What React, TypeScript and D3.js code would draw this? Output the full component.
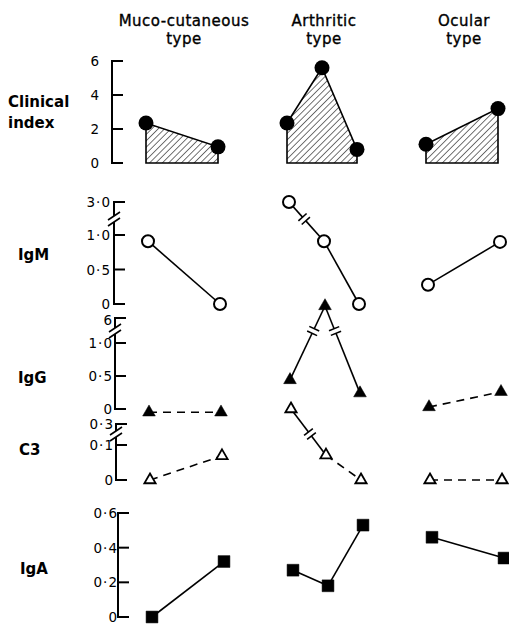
import React, { useEffect, useRef } from "react";
import * as d3 from "d3";

const groups = ["Muco-cutaneous", "Arthritic", "Ocular"];
const titleLines = [["Muco-cutaneous", "type"], ["Arthritic", "type"], ["Ocular", "type"]];

// one sub-array per group, one value per visit
const clinicalIndex = [[2.35, 0.95], [2.35, 5.6, 0.8], [1.1, 3.2]];
const igM = [[0.91, 0], [3.0, 0.91, 0], [0.28, 0.9]];
const igG = [[-0.05, -0.05], [0.44, 6.5, 0.24], [0.03, 0.26]];
const c3 = [[0, 0.069], [0.35, 0.071, 0], [0, 0]];
const igA = [[0, 0.32], [0.27, 0.18, 0.53], [0.46, 0.34]];

const clinicalTicks = [0, 2, 4, 6];
const clinicalTickLabels = ["0", "2", "4", "6"];
const igMTicks = [0, 0.5, 1];
const igMTickLabels = ["0", "0·5", "1·0"];
const igGTicks = [0, 0.5, 1];
const igGTickLabels = ["0", "0·5", "1·0"];
const c3Ticks = [0, 0.1];
const c3TickLabels = ["0", "0·1"];
const igATicks = [0, 0.2, 0.4, 0.6];
const igATickLabels = ["0", "0·2", "0·4", "0·6"];

const panels = [
  {
    label: ["Clinical", "index"], labelY: [107, 128], labelX: 8,
    values: clinicalIndex, ticks: clinicalTicks, tickLabels: clinicalTickLabels,
    domain: [0, 6], range: [163, 61], dx: -2, labelRight: 101,
    marker: "dot", hatch: true, dashed: false,
  },
  {
    label: ["IgM"], labelY: [260], labelX: 18,
    values: igM, ticks: igMTicks, tickLabels: igMTickLabels,
    domain: [0, 1], range: [304, 235], dx: 0, labelRight: 110,
    upper: { tick: 3, label: "3·0", domain: [3, 4], range: [202, 172], labelDy: 0 }, breakY: 219,
    marker: "openCircle", hatch: false, dashed: false,
  },
  {
    label: ["IgG"], labelY: [383], labelX: 18,
    values: igG, ticks: igGTicks, tickLabels: igGTickLabels,
    domain: [0, 1], range: [409, 343], dx: 1, labelRight: 111,
    upper: { tick: 6, label: "6", domain: [6, 7], range: [318, 294], labelDy: 2 }, breakY: 331,
    marker: "filledTriangle", hatch: false, dashed: true,
  },
  {
    label: ["C3"], labelY: [455], labelX: 19,
    values: c3, ticks: c3Ticks, tickLabels: c3TickLabels,
    domain: [0, 0.1], range: [480, 445], dx: 2, labelRight: 111,
    upper: { tick: 0.3, label: "0·3", domain: [0.3, 0.4], range: [424, 394], labelDy: 0 }, breakY: 434,
    marker: "openTriangle", hatch: false, dashed: true,
  },
  {
    label: ["IgA"], labelY: [574], labelX: 20,
    values: igA, ticks: igATicks, tickLabels: igATickLabels,
    domain: [0, 0.6], range: [617, 513], dx: 4, labelRight: 113,
    marker: "filledSquare", hatch: false, dashed: false,
  },
];

const W = 509;
const H = 627;
const FONT = "'DejaVu Sans', sans-serif";

export default function App() {
  const ref = useRef<SVGSVGElement>(null);

  useEffect(() => {
    const svg = d3.select(ref.current);
    svg.selectAll("*").remove();

    //hatch for the clinical index areas
    svg.append("defs").append("pattern")
      .attr("id", "hatch")
      .attr("patternUnits", "userSpaceOnUse")
      .attr("width", 4.5).attr("height", 4.5)
      .attr("patternTransform", "rotate(45)")
      .append("line")
      .attr("x1", 0).attr("y1", 0).attr("x2", 0).attr("y2", 4.5)
      .attr("stroke", "#000").attr("stroke-width", 1.1);

    const groupX = d3.scalePoint().domain(groups).range([184, 464]);

    // column titles
    groups.forEach((g, i) => {
      titleLines[i].forEach((t, j) => {
        svg.append("text")
          .attr("x", groupX(g)!)
          .attr("y", 26 + j * 18)
          .attr("text-anchor", "middle")
          .attr("font-family", FONT)
          .attr("font-size", 15)
          .attr("letter-spacing", 0.5)
          .attr("stroke", "#000").attr("stroke-width", 0.35)
          .text(t);
      });
    });

    panels.forEach((p: any) => {
      const lower = d3.scaleLinear().domain(p.domain).range(p.range);
      const upper = p.upper ? d3.scaleLinear().domain(p.upper.domain).range(p.upper.range) : null;
      const y = (v: number) => (upper && v > p.domain[1] ? upper(v) : lower(v));
      const isUpper = (v: number) => !!upper && v > p.domain[1];
      const ax = 114 + p.dx;
      const g = svg.append("g");

      // row label
      p.label.forEach((t: string, j: number) => {
        g.append("text")
          .attr("x", p.labelX).attr("y", p.labelY[j])
          .attr("font-family", FONT).attr("font-size", 15).attr("font-weight", "bold")
          .text(t);
      });

      // axis
      const yBottom = lower(p.domain[0]);
      const yTop = upper ? upper(p.upper.tick) : lower(p.domain[1]);
      const axisStroke = (sel: any) => sel.attr("stroke", "#000").attr("stroke-width", 2).attr("fill", "none");
      if (upper) {
        g.append("line").attr("x1", ax).attr("x2", ax).attr("y1", yTop).attr("y2", p.breakY - 3).call(axisStroke);
        g.append("line").attr("x1", ax).attr("x2", ax).attr("y1", p.breakY + 3).attr("y2", yBottom).call(axisStroke);
        [-3, 3].forEach((o) => {
          g.append("line")
            .attr("x1", ax - 6).attr("y1", p.breakY + o + 4)
            .attr("x2", ax + 6).attr("y2", p.breakY + o - 4)
            .attr("stroke", "#000").attr("stroke-width", 1.6);
        });
      } else {
        g.append("line").attr("x1", ax).attr("x2", ax).attr("y1", yTop).attr("y2", yBottom).call(axisStroke);
      }
      const tickList = p.ticks.map((t: number, k: number) => ({ y: lower(t), label: p.tickLabels[k], dy: 0 }));
      if (upper) tickList.push({ y: upper(p.upper.tick), label: p.upper.label, dy: p.upper.labelDy });
      tickList.forEach((t: any) => {
        g.append("line").attr("x1", ax - 1).attr("x2", ax + 11).attr("y1", t.y).attr("y2", t.y).call(axisStroke);
        g.append("text")
          .attr("x", p.labelRight + p.dx + 1).attr("y", t.y + 5 + t.dy)
          .attr("text-anchor", "end")
          .attr("font-family", FONT).attr("font-size", 13.5)
          .attr("letter-spacing", 1)
          .text(t.label);
      });

      groups.forEach((grp, gi) => {
        const vals: number[] = p.values[gi];
        const inner = d3.scalePoint<number>()
          .domain(vals.map((_, k) => k))
          .range(vals.length > 2 ? [-35, 35] : [-36, 36]);
        const pts = vals.map((v, k) => [groupX(grp)! + inner(k)! + p.dx, y(v)] as [number, number]);

        if (p.hatch) {
          const poly = [[pts[0][0], lower(0)], ...pts, [pts[pts.length - 1][0], lower(0)]] as [number, number][];
          g.append("path")
            .attr("d", d3.line()(poly) + "Z")
            .attr("fill", "url(#hatch)")
            .attr("stroke", "#000").attr("stroke-width", 1.6);
        } else {
          for (let k = 0; k < pts.length - 1; k++) {
            const a = pts[k], b = pts[k + 1];
            const broken = isUpper(vals[k]) !== isUpper(vals[k + 1]);
            const dash = p.dashed && !broken ? "8,6" : null;
            const seg = (s: [number, number], e: [number, number]) =>
              g.append("line")
                .attr("x1", s[0]).attr("y1", s[1]).attr("x2", e[0]).attr("y2", e[1])
                .attr("stroke", "#000").attr("stroke-width", 1.6)
                .attr("stroke-dasharray", dash);
            if (!broken) {
              seg(a, b);
            } else {
              // break marks where the line crosses the axis break
              const t = (p.breakY - a[1]) / (b[1] - a[1]);
              const c: [number, number] = [a[0] + t * (b[0] - a[0]), p.breakY];
              const len = Math.hypot(b[0] - a[0], b[1] - a[1]);
              const u = [(b[0] - a[0]) / len, (b[1] - a[1]) / len];
              const n = [-u[1], u[0]];
              const gap = 2.5;
              const c1: [number, number] = [c[0] - u[0] * gap, c[1] - u[1] * gap];
              const c2: [number, number] = [c[0] + u[0] * gap, c[1] + u[1] * gap];
              seg(a, c1);
              seg(c2, b);
              [c1, c2].forEach((m) => {
                g.append("line")
                  .attr("x1", m[0] - n[0] * 5.5).attr("y1", m[1] - n[1] * 5.5)
                  .attr("x2", m[0] + n[0] * 5.5).attr("y2", m[1] + n[1] * 5.5)
                  .attr("stroke", "#000").attr("stroke-width", 1.6);
              });
            }
          }
        }

        // markers
        pts.forEach((pt) => {
          if (p.marker === "dot") {
            g.append("circle").attr("cx", pt[0]).attr("cy", pt[1]).attr("r", 7.5).attr("fill", "#000");
          } else if (p.marker === "openCircle") {
            g.append("circle").attr("cx", pt[0]).attr("cy", pt[1]).attr("r", 6)
              .attr("fill", "#fff").attr("stroke", "#000").attr("stroke-width", 2);
          } else {
            const type = p.marker === "filledSquare" ? d3.symbolSquare : d3.symbolTriangle;
            const size = p.marker === "filledSquare" ? 140 : p.marker === "filledTriangle" ? 70 : 55;
            const filled = p.marker !== "openTriangle";
            g.append("path")
              .attr("transform", `translate(${pt[0]},${pt[1]})`)
              .attr("d", d3.symbol().type(type).size(size)()!)
              .attr("fill", filled ? "#000" : "#fff")
              .attr("stroke", "#000").attr("stroke-width", filled ? 0.5 : 1.8);
          }
        });
      });
    });
  }, []);

  return (
    <svg
      ref={ref}
      width={W}
      height={H}
      style={{ position: "absolute", left: 0, top: 0, background: "#fff" }}
    />
  );
}
